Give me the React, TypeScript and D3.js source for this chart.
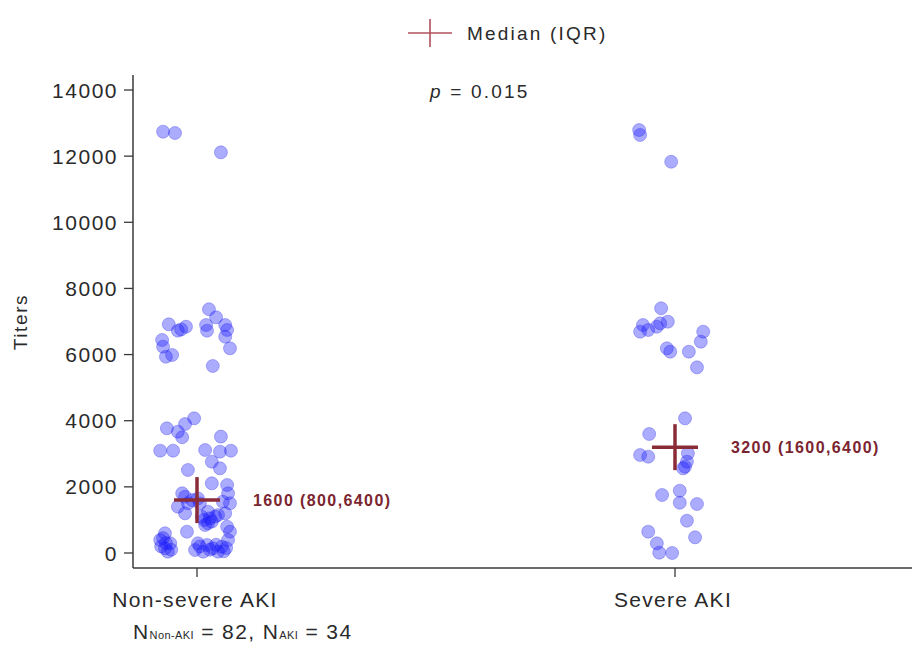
import React from 'react';
import * as d3 from 'd3';

// groups on the x axis
const groups = ['Non-severe AKI', 'Severe AKI'];

// titers, with horizontal jitter (% of group spacing)
const nonSevereTiters = [
  12740, 12700, 12115,
  7370, 7127, 6915, 6723, 6760, 6843, 6894, 6722, 6894, 6743, 6540, 6190, 6441, 6239, 5935, 5987, 5655,
  4072, 3900, 3770, 3670, 3500, 3094, 3094, 3520, 3115, 3064, 3094, 2760, 2560, 2510,
  2108, 2056, 1805, 1805, 1503, 1551, 1400, 1503, 1200, 1098, 1049, 1250, 1150, 1200, 795, 644, 847,
  595, 393, 293, 142, 40, 293, 90, 242, 142, 190, 393, 644, 40, 40,
  1600, 1650, 1500, 1700, 1000, 950, 1100, 900, 450, 300, 200, 100, 200, 100, 250, 50, 150,
];
const nonSevereJitter = [
  -7.1, -4.6, 5.0,
  2.5, 4.0, -5.9, -4.0, -3.3, -2.3, 1.9, 2.1, 5.9, 6.3, 5.9, 6.9, -7.3, -7.1, -6.5, -5.2, 3.3,
  -0.6, -2.5, -6.3, -4.0, -3.1, -7.7, -5.0, 5.0, 1.7, 4.8, 7.1, 3.1, 4.8, -1.9,
  3.1, 6.3, -3.1, 6.5, 6.9, 5.4, -4.0, -1.9, -2.5, 1.0, 2.7, 2.3, 4.4, 5.9, 6.3, -2.1, 1.7,
  -6.7, -7.7, -5.6, -6.7, -6.1, 0.2, -0.4, 2.1, 3.3, 5.2, 6.5, 6.9, 1.3, 4.4,
  -1.0, 0.2, 0.6, -2.5, 1.5, 3.1, 3.8, 2.3, -7.1, -6.5, -7.5, -5.4, 0.6, 2.7, 4.0, 5.6, 6.1,
];

const severeTiters = [
  12790, 12640, 11830,
  7400, 6994, 6894, 6692, 6743, 6843, 6945, 6190, 6087, 6692, 6390, 6087, 5614,
  4072, 3598, 2963, 2912, 3014, 2761, 2610, 2560,
  1754, 1884, 1521, 1481, 977, 475, 644, 293, 9, 0,
];
const severeJitter = [
  -7.5, -7.3, -0.8,
  -2.9, -1.5, -6.7, -7.3, -5.6, -3.8, -3.1, -1.7, -1.0, 5.9, 5.4, 2.9, 4.6,
  2.1, -5.4, -7.3, -5.6, 2.7, 2.5, 2.1, 1.7,
  -2.7, 1.0, 1.0, 4.6, 2.5, 4.2, -5.6, -3.8, -3.3, -0.6,
];

const medians = [1600, 3200];
const medianLabels = ['1600 (800,6400)', '3200 (1600,6400)'];
const yTicks = [0, 2000, 4000, 6000, 8000, 10000, 12000, 14000];

const W = 915;
const H = 648;
const font = 'Arial, "Liberation Sans", sans-serif';
const axisColor = '#3a3a3a';
const textColor = '#2a2a2a';
const crossColor = '#8a2c38';

export default function App() {
  const x = d3.scaleLinear().domain([0, 1]).range([197, 675]);
  const y = d3.scaleLinear().domain([0, 14000]).range([553, 90]);

  const points = [
    ...nonSevereTiters.map((v, i) => ({ g: 0, v, j: nonSevereJitter[i] })),
    ...severeTiters.map((v, i) => ({ g: 1, v, j: severeJitter[i] })),
  ];

  const axisLeft = 133;
  const axisBottom = 568;

  return (
    <svg
      width={W}
      height={H}
      style={{ position: 'absolute', left: 0, top: 0, background: '#fff' }}
      fontFamily={font}
    >
      <rect width={W} height={H} fill="#fff" />

      {/* legend */}
      <g>
        <line x1={408} x2={452} y1={33} y2={33} stroke="#b0505c" strokeWidth={1.6} />
        <line x1={430} x2={430} y1={19} y2={47} stroke="#b0505c" strokeWidth={1.6} />
        <text x={467} y={40} fontSize={19} letterSpacing={2.2} fill={textColor}>Median (IQR)</text>
      </g>
      <text x={430} y={98} fontSize={19} letterSpacing={2.2} fill={textColor}>
        <tspan fontStyle="italic">p</tspan> = 0.015
      </text>

      {/* y axis */}
      <line x1={axisLeft} x2={axisLeft} y1={75} y2={axisBottom} stroke={axisColor} strokeWidth={1.5} />
      {yTicks.map((t) => (
        <g key={t}>
          <line x1={axisLeft - 9} x2={axisLeft} y1={y(t)} y2={y(t)} stroke={axisColor} strokeWidth={1.3} />
          <text x={118} y={y(t)} dy="0.36em" textAnchor="end" fontSize={21} letterSpacing={1.5} fill={textColor}>
            {t}
          </text>
        </g>
      ))}
      <text
        transform="translate(27,322) rotate(-90)"
        textAnchor="middle"
        fontSize={19}
        letterSpacing={1.6}
        fill={textColor}
      >
        Titers
      </text>

      {/* x axis */}
      <line x1={axisLeft} x2={912} y1={axisBottom} y2={axisBottom} stroke={axisColor} strokeWidth={1.5} />
      {groups.map((g, i) => (
        <g key={g}>
          <line x1={x(i)} x2={x(i)} y1={axisBottom} y2={axisBottom + 9} stroke={axisColor} strokeWidth={1.3} />
          <text x={x(i) - 2} y={607} textAnchor="middle" fontSize={21} letterSpacing={1.3} fill={textColor}>
            {g}
          </text>
        </g>
      ))}
      <text x={133} y={639} fontSize={21} letterSpacing={1.4} fill={textColor}>
        N<tspan fontSize={11} letterSpacing={0.4}>Non-AKI</tspan> = 82, N
        <tspan fontSize={11} letterSpacing={0.4}>AKI</tspan> = 34
      </text>

      {/* points */}
      <g>
        {points.map((p, i) => (
          <circle
            key={i}
            cx={x(p.g + p.j / 100)}
            cy={y(p.v)}
            r={6.5}
            fill="#1a1aff"
            fillOpacity={0.36}
            stroke="#2020e0"
            strokeOpacity={0.3}
            strokeWidth={1}
          />
        ))}
      </g>

      {/* median markers */}
      {medians.map((m, i) => (
        <g key={i}>
          <line x1={x(i) - 23} x2={x(i) + 23} y1={y(m)} y2={y(m)} stroke={crossColor} strokeWidth={3.5} />
          <line x1={x(i)} x2={x(i)} y1={y(m) - 23} y2={y(m) + 23} stroke={crossColor} strokeWidth={3.5} />
          <text
            x={x(i) + 56}
            y={y(m)}
            dy="0.35em"
            fontSize={16}
            fontWeight="bold"
            letterSpacing={1.4}
            fill="#7a2530"
          >
            {medianLabels[i]}
          </text>
        </g>
      ))}
    </svg>
  );
}
